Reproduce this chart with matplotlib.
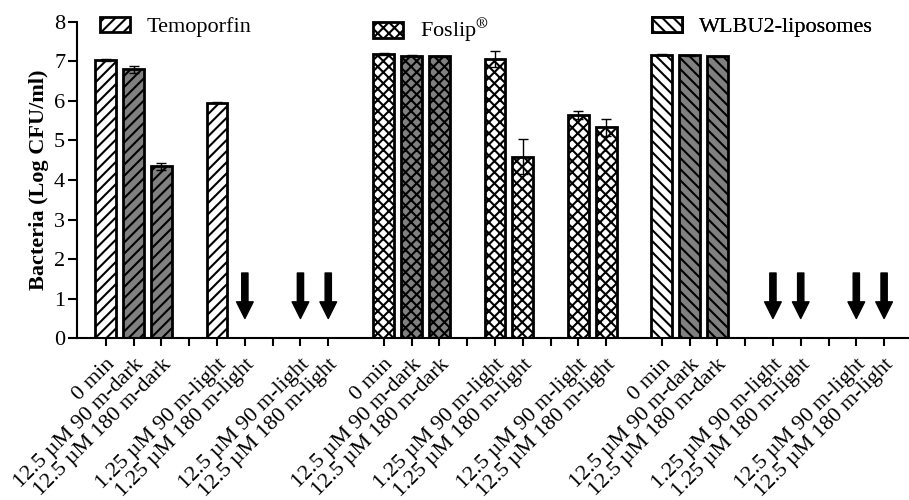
import numpy as np
import matplotlib
matplotlib.use("Agg")
import matplotlib.pyplot as plt
from matplotlib.patches import Patch

plt.rcParams['font.family'] = ['Liberation Serif', 'DejaVu Serif']
plt.rcParams['mathtext.fontset'] = 'stix'
plt.rcParams['hatch.linewidth'] = 1.5

# conditions inside each group (gaps are empty slots)
conditions = ["0 min", "12.5 µM 90 m-dark", "12.5 µM 180 m-dark",
              "1.25 µM 90 m-light", "1.25 µM 180 m-light",
              "12.5 µM 90 m-light", "12.5 µM 180 m-light"]
slots = [0, 1, 2, 4, 5, 7, 8]
dark = [False, True, True, False, False, False, False]

groups = ["Temoporfin", r"Foslip$^{\circledR}$", "WLBU2-liposomes"]
hatches = ["///", "xxx", "\\\\\\"]

temoporfin_mean = [7.03, 6.80, 4.35, 5.95, 0, 0, 0]
temoporfin_sd = [0.03, 0.09, 0.09, 0.01, 0, 0, 0]
temoporfin_below = [False, False, False, False, True, True, True]

foslip_mean = [7.18, 7.14, 7.13, 7.06, 4.59, 5.64, 5.33]
foslip_sd = [0.02, 0.01, 0.01, 0.21, 0.44, 0.10, 0.21]
foslip_below = [False] * 7

wlbu2_mean = [7.17, 7.15, 7.13, 0, 0, 0, 0]
wlbu2_sd = [0.02, 0.01, 0.01, 0, 0, 0, 0]
wlbu2_below = [False, False, False, True, True, True, True]

means = [temoporfin_mean, foslip_mean, wlbu2_mean]
sds = [temoporfin_sd, foslip_sd, wlbu2_sd]
belows = [temoporfin_below, foslip_below, wlbu2_below]

fig = plt.figure(figsize=(9.09, 5.0), dpi=100)
ax = fig.add_axes([77 / 909, 1 - 338.3 / 500, 831 / 909, 316.6 / 500])

gray = "#808080"
tick_pos = []
tick_lab = []
for g in range(3):
    off = g * 10
    for i, s in enumerate(slots):
        x = off + s
        if belows[g][i]:
            # below detection limit -> arrow instead of a bar
            ax.annotate("", xy=(x, 0.5), xytext=(x, 1.65),
                        arrowprops=dict(facecolor="black", edgecolor="black",
                                        width=4.5, headwidth=12, headlength=12))
        else:
            fc = gray if dark[i] else "white"
            ax.bar(x, means[g][i], width=0.75, color=fc, edgecolor="black",
                   linewidth=2.0, hatch=hatches[g], zorder=2)
            ax.errorbar(x, means[g][i], yerr=sds[g][i], fmt="none",
                        ecolor="black", elinewidth=1.0, capsize=3.6,
                        capthick=1.0, zorder=3)
    for s in range(9):
        tick_pos.append(off + s)
    lab = [""] * 9
    for i, s in enumerate(slots):
        lab[s] = conditions[i]
    tick_lab.extend(lab)

ax.set_xlim(-1.04, 28.86)
ax.set_ylim(0, 8)
ax.set_yticks(range(0, 9))
ax.set_xticks(tick_pos)
ax.set_xticklabels(tick_lab, rotation=45, ha="right", rotation_mode="anchor",
                   fontsize=16)
ax.tick_params(axis="y", labelsize=16, length=6.5, width=1.5, pad=2)
ax.tick_params(axis="x", length=6, width=1.5, pad=6)
for side in ["top", "right"]:
    ax.spines[side].set_visible(False)
for side in ["left", "bottom"]:
    ax.spines[side].set_linewidth(1.5)
ax.set_ylabel("Bacteria (Log CFU/ml)", fontsize=16, fontweight="bold",
              labelpad=4)

leg_x = [100, 373, 652]
for g in range(3):
    h = Patch(facecolor="white", edgecolor="black", linewidth=2.0,
              hatch=hatches[g])
    leg = ax.legend([h], [groups[g]], loc="upper left",
                    bbox_to_anchor=(leg_x[g] / 909, 1 - 17 / 500),
                    bbox_transform=fig.transFigure, frameon=False,
                    fontsize=16, borderpad=0, borderaxespad=0,
                    handlelength=1.36, handleheight=0.68, handletextpad=0.75)
    ax.add_artist(leg)

fig.savefig("out.png", dpi=100)
